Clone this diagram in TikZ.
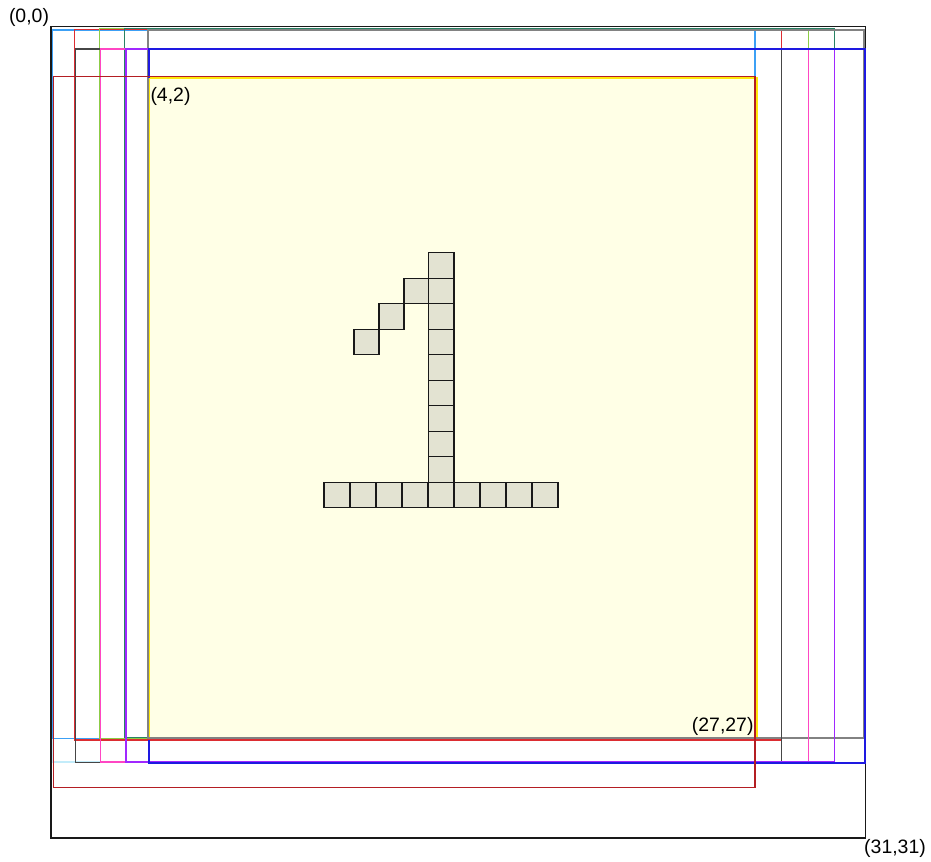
\documentclass[tikz,border=0pt]{standalone}
\usepackage{fontspec}
\setmainfont{Liberation Sans}
\definecolor{cLightBlue}{RGB}{60,160,245}
\definecolor{cRed}{RGB}{220,45,50}
\definecolor{cLightGreen}{RGB}{140,205,70}
\definecolor{cTeal}{RGB}{40,130,100}
\definecolor{cGray}{RGB}{130,130,130}
\definecolor{cDarkGray}{RGB}{70,70,70}
\definecolor{cPink}{RGB}{255,70,195}
\definecolor{cPurple}{RGB}{160,40,255}
\definecolor{cBlue}{RGB}{30,25,225}
\definecolor{cDarkRed}{RGB}{180,30,35}
\definecolor{cYellow}{RGB}{255,232,10}
\definecolor{cYellowFill}{RGB}{255,255,230}
\definecolor{cLightCyan}{RGB}{195,236,250}
\definecolor{cCell}{RGB}{227,227,210}
\definecolor{cFrame}{RGB}{25,25,25}
\tikzset{
  win/.style={draw=#1, line width=1.4bp},
  cellbox/.style={draw=cFrame, fill=cCell, line width=1.2bp},
  coordlabel/.style={inner sep=0pt, font=\fontsize{19.5}{22}\selectfont, text=black},
}
\begin{document}
\begin{tikzpicture}[x=1bp, y=-1bp]
\useasboundingbox (0,0) rectangle (931,862);
% outer frame
\draw[draw=cFrame, line width=1.5bp] (51,26.5) rectangle (865.5,838);
% yellow region
\draw[draw=cYellow, fill=cYellowFill, line width=1.4bp] (149.5,78) rectangle (757,739.3);
% windows, first row
\draw[win=cLightCyan] (52.5,30) rectangle (755,762);
\draw[win=cLightBlue] (52.5,30) rectangle (755,738.5);
\draw[win=cRed] (74.3,29.5) rectangle (781.7,740);
\draw[win=cLightGreen] (99.3,28.5) rectangle (808.3,738.3);
\draw[win=cTeal] (124.5,28.5) rectangle (834.3,737.5);
\draw[win=cGray, line width=1.6bp] (147.8,30) rectangle (864,738);
% windows, second row
\draw[win=cDarkGray] (75.7,49) rectangle (781.7,762.3);
\draw[win=cPink] (100.7,49) rectangle (808.3,762);
\draw[win=cPurple] (126,49) rectangle (834.3,762);
% blue window: its left edge is hidden behind the yellow region
\draw[cBlue, line width=2.2bp] (148.7,77.5) -- (148.7,49) -- (864.7,49) -- (864.7,763.3) -- (148.7,763.3) -- (148.7,740);
% dark red window
\draw[win=cDarkRed] (53.7,76.5) rectangle (755,787.3);
% digit cells: vertical stroke
\foreach \k in {0,...,8}{
  \draw[cellbox] (428.5,{252.7+25.5*\k}) rectangle (454,{278.2+25.5*\k});
}
% diagonal
\draw[cellbox] (404,278.2) rectangle (428.5,303.7);
\draw[cellbox] (379,303.7) rectangle (404,329.2);
\draw[cellbox] (354,329.2) rectangle (379,354.7);
% base
\foreach \k in {0,...,8}{
  \draw[cellbox] ({324+26*\k},482.7) rectangle ({350+26*\k},507.5);
}
% labels
\node[coordlabel] (l00) at (29,17.5) {(0,0)};
\node[coordlabel] (l42) at (170.5,96.5) {(4,2)};
\node[coordlabel] (l2727) at (722.7,726.5) {(27,27)};
\node[coordlabel] (l3131) at (895,848) {(31,31)};
\end{tikzpicture}
\end{document}
